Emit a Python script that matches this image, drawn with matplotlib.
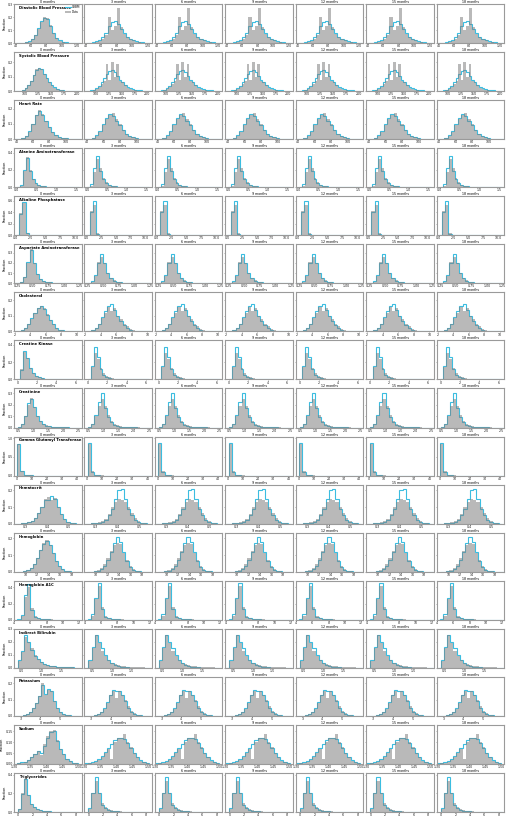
import numpy as np
import matplotlib
matplotlib.use('Agg')
import matplotlib.pyplot as plt
from matplotlib.ticker import MaxNLocator

MONTHS = ['0 months', '3 months', '6 months', '9 months', '12 months', '15 months', '18 months']

# each variable: bins (lo, hi, count), month-0 data / follow-up data, month-0 CRBM / follow-up CRBM
DBP_BINS = (40, 124, 21)
DBP_XTICKS = [40, 60, 80, 100, 120]
DBP_DATA0 = [0.001, 0.001, 0.003, 0.006, 0.012, 0.03, 0.06, 0.11, 0.165, 0.2, 0.195, 0.14, 0.08, 0.04, 0.018, 0.008, 0.004, 0.002, 0.001, 0, 0]
DBP_DATAF = [0.001, 0.002, 0.004, 0.008, 0.015, 0.03, 0.06, 0.2, 0.1, 0.13, 0.27, 0.12, 0.07, 0.05, 0.03, 0.02, 0.012, 0.006, 0.003, 0.002, 0.001]
DBP_CRBM0 = [0.001, 0.002, 0.004, 0.008, 0.015, 0.033, 0.065, 0.115, 0.17, 0.195, 0.185, 0.13, 0.075, 0.04, 0.02, 0.01, 0.005, 0.003, 0.002, 0.001, 0]
DBP_CRBMF = [0.002, 0.004, 0.008, 0.014, 0.025, 0.045, 0.08, 0.13, 0.165, 0.17, 0.15, 0.11, 0.075, 0.05, 0.033, 0.022, 0.015, 0.01, 0.006, 0.003, 0.001]

SBP_BINS = (80, 205, 25)
SBP_XTICKS = [100, 125, 150, 175, 200]
SBP_DATA0 = [0, 0.001, 0.003, 0.008, 0.02, 0.04, 0.07, 0.11, 0.15, 0.16, 0.155, 0.12, 0.09, 0.06, 0.04, 0.025, 0.015, 0.01, 0.006, 0.004, 0.002, 0.001, 0.001, 0.0005, 0]
SBP_DATAF = [0, 0.001, 0.003, 0.007, 0.015, 0.03, 0.05, 0.07, 0.19, 0.08, 0.2, 0.1, 0.19, 0.07, 0.06, 0.04, 0.025, 0.015, 0.01, 0.006, 0.004, 0.002, 0.001, 0.001, 0]
SBP_CRBM0 = [0, 0.001, 0.003, 0.009, 0.02, 0.042, 0.072, 0.112, 0.148, 0.158, 0.15, 0.118, 0.088, 0.06, 0.04, 0.026, 0.016, 0.01, 0.006, 0.004, 0.002, 0.001, 0.001, 0.0005, 0]
SBP_CRBMF = [0.001, 0.002, 0.005, 0.01, 0.02, 0.035, 0.06, 0.09, 0.12, 0.14, 0.145, 0.13, 0.105, 0.08, 0.06, 0.042, 0.03, 0.02, 0.014, 0.01, 0.007, 0.005, 0.003, 0.002, 0.001]

HR_BINS = (38, 118, 20)
HR_XTICKS = [40, 60, 80, 100]
HR_DATA0 = [0, 0.002, 0.006, 0.02, 0.05, 0.1, 0.16, 0.19, 0.165, 0.12, 0.08, 0.045, 0.025, 0.015, 0.008, 0.005, 0.003, 0.002, 0.001, 0]
HR_DATAF = [0, 0.002, 0.006, 0.018, 0.045, 0.09, 0.13, 0.16, 0.17, 0.13, 0.1, 0.06, 0.035, 0.02, 0.012, 0.007, 0.004, 0.002, 0.001, 0]
HR_CRBM0 = [0, 0.002, 0.007, 0.022, 0.052, 0.1, 0.155, 0.185, 0.16, 0.12, 0.08, 0.046, 0.026, 0.015, 0.008, 0.005, 0.003, 0.002, 0.001, 0]
HR_CRBMF = [0, 0.003, 0.01, 0.025, 0.055, 0.1, 0.14, 0.165, 0.15, 0.12, 0.09, 0.058, 0.035, 0.02, 0.012, 0.007, 0.004, 0.002, 0.001, 0]

ALT_BINS = (0, 1.575, 21)
ALT_XTICKS = [0.0, 0.5, 1.0, 1.5]
ALT_DATA0 = [0, 0.02, 0.19, 0.35, 0.2, 0.1, 0.05, 0.03, 0.02, 0.012, 0.008, 0.005, 0.003, 0.002, 0.001, 0.001, 0, 0, 0, 0, 0]
ALT_DATAF = [0, 0.02, 0.18, 0.33, 0.22, 0.11, 0.055, 0.03, 0.02, 0.012, 0.008, 0.005, 0.003, 0.002, 0.001, 0.001, 0, 0, 0, 0, 0]
ALT_CRBM0 = [0, 0.03, 0.2, 0.34, 0.19, 0.1, 0.05, 0.03, 0.02, 0.012, 0.008, 0.005, 0.003, 0.002, 0.001, 0.001, 0, 0, 0, 0, 0]
ALT_CRBMF = [0, 0.04, 0.22, 0.36, 0.19, 0.09, 0.045, 0.028, 0.018, 0.011, 0.007, 0.005, 0.003, 0.002, 0.001, 0.001, 0, 0, 0, 0, 0]

ALP_BINS = (0, 11, 20)
ALP_XTICKS = [0.0, 2.5, 5.0, 7.5, 10.0]
ALP_DATA0 = [0.005, 0.38, 0.57, 0.035, 0.007, 0.002, 0.001, 0, 0, 0, 0, 0, 0, 0, 0, 0, 0, 0, 0, 0]
ALP_DATAF = [0.005, 0.42, 0.52, 0.045, 0.007, 0.002, 0.001, 0, 0, 0, 0, 0, 0, 0, 0, 0, 0, 0, 0, 0]
ALP_CRBM0 = [0.005, 0.37, 0.58, 0.035, 0.006, 0.002, 0.001, 0, 0, 0, 0, 0, 0, 0, 0, 0, 0, 0, 0, 0]
ALP_CRBMF = [0.004, 0.4, 0.6, 0.03, 0.005, 0.001, 0, 0, 0, 0, 0, 0, 0, 0, 0, 0, 0, 0, 0, 0]

AST_BINS = (0.2, 1.25, 21)
AST_XTICKS = [0.25, 0.5, 0.75, 1.0, 1.25]
AST_DATA0 = [0, 0, 0.01, 0.06, 0.2, 0.33, 0.2, 0.09, 0.045, 0.025, 0.015, 0.01, 0.006, 0.004, 0.003, 0.002, 0.001, 0.001, 0.0005, 0, 0]
AST_DATAF = [0, 0, 0.012, 0.07, 0.21, 0.26, 0.2, 0.1, 0.05, 0.028, 0.016, 0.01, 0.006, 0.004, 0.003, 0.002, 0.001, 0.001, 0.0005, 0, 0]
AST_CRBM0 = [0, 0, 0.012, 0.065, 0.21, 0.32, 0.2, 0.09, 0.045, 0.025, 0.015, 0.01, 0.006, 0.004, 0.003, 0.002, 0.001, 0.001, 0.0005, 0, 0]
AST_CRBMF = [0, 0.002, 0.02, 0.08, 0.2, 0.29, 0.2, 0.1, 0.05, 0.026, 0.014, 0.009, 0.005, 0.003, 0.002, 0.001, 0.001, 0, 0, 0, 0]

CHOL_BINS = (2.0, 10.4, 21)
CHOL_XTICKS = [2, 4, 6, 8, 10]
CHOL_DATA0 = [0, 0.002, 0.008, 0.02, 0.045, 0.08, 0.115, 0.15, 0.165, 0.15, 0.11, 0.075, 0.045, 0.025, 0.012, 0.006, 0.003, 0.002, 0.001, 0, 0]
CHOL_DATAF = [0, 0.002, 0.008, 0.02, 0.045, 0.085, 0.12, 0.155, 0.13, 0.15, 0.1, 0.08, 0.05, 0.035, 0.015, 0.007, 0.003, 0.002, 0.001, 0, 0]
CHOL_CRBM0 = [0, 0.002, 0.009, 0.022, 0.048, 0.085, 0.12, 0.148, 0.16, 0.145, 0.108, 0.075, 0.045, 0.025, 0.012, 0.006, 0.003, 0.002, 0.001, 0, 0]
CHOL_CRBMF = [0, 0.003, 0.01, 0.025, 0.05, 0.09, 0.13, 0.165, 0.175, 0.14, 0.1, 0.065, 0.04, 0.022, 0.011, 0.005, 0.003, 0.002, 0.001, 0, 0]

CK_BINS = (0, 6.3, 21)
CK_XTICKS = [0, 2, 4, 6]
CK_DATA0 = [0, 0.12, 0.32, 0.25, 0.13, 0.07, 0.04, 0.025, 0.015, 0.01, 0.006, 0.004, 0.003, 0.002, 0.001, 0.001, 0, 0, 0, 0, 0]
CK_DATAF = [0, 0.14, 0.3, 0.24, 0.13, 0.07, 0.04, 0.025, 0.015, 0.01, 0.006, 0.004, 0.003, 0.002, 0.001, 0.001, 0, 0, 0, 0, 0]
CK_CRBM0 = [0, 0.11, 0.33, 0.25, 0.13, 0.07, 0.04, 0.025, 0.015, 0.01, 0.006, 0.004, 0.003, 0.002, 0.001, 0.001, 0, 0, 0, 0, 0]
CK_CRBMF = [0, 0.15, 0.37, 0.26, 0.12, 0.05, 0.025, 0.014, 0.008, 0.005, 0.003, 0.002, 0.001, 0.001, 0, 0, 0, 0, 0, 0, 0]

CREA_BINS = (0.4, 2.6, 22)
CREA_XTICKS = [0.5, 1.0, 1.5, 2.0, 2.5]
CREA_DATA0 = [0, 0.004, 0.03, 0.1, 0.2, 0.26, 0.18, 0.1, 0.055, 0.03, 0.018, 0.01, 0.006, 0.004, 0.003, 0.002, 0.001, 0.001, 0, 0, 0, 0]
CREA_DATAF = [0, 0.005, 0.03, 0.1, 0.19, 0.25, 0.19, 0.11, 0.06, 0.03, 0.018, 0.01, 0.006, 0.004, 0.003, 0.002, 0.001, 0.001, 0, 0, 0, 0]
CREA_CRBM0 = [0, 0.005, 0.032, 0.1, 0.21, 0.25, 0.18, 0.1, 0.055, 0.03, 0.017, 0.01, 0.006, 0.004, 0.003, 0.002, 0.001, 0.001, 0, 0, 0, 0]
CREA_CRBMF = [0, 0.006, 0.035, 0.11, 0.22, 0.3, 0.17, 0.09, 0.045, 0.025, 0.014, 0.008, 0.005, 0.003, 0.002, 0.001, 0.001, 0, 0, 0, 0, 0]

GGT_BINS = (0.5, 42.5, 20)
GGT_XTICKS = [0, 10, 20, 30, 40]
GGT_DATA0 = [0.84, 0.12, 0.025, 0.008, 0.004, 0.002, 0.001, 0.001, 0, 0, 0, 0, 0, 0, 0, 0, 0, 0, 0, 0]
GGT_DATAF = [0.83, 0.13, 0.025, 0.008, 0.004, 0.002, 0.001, 0.001, 0, 0, 0, 0, 0, 0, 0, 0, 0, 0, 0, 0]
GGT_CRBM0 = [0.85, 0.11, 0.025, 0.008, 0.004, 0.002, 0.001, 0, 0, 0, 0, 0, 0, 0, 0, 0, 0, 0, 0, 0]
GGT_CRBMF = [0.88, 0.09, 0.02, 0.005, 0.002, 0.001, 0, 0, 0, 0, 0, 0, 0, 0, 0, 0, 0, 0, 0, 0]

HCT_BINS = (0.25, 0.55, 20)
HCT_XTICKS = [0.3, 0.4, 0.5]
HCT_DATA0 = [0, 0, 0.002, 0.004, 0.008, 0.015, 0.035, 0.065, 0.1, 0.15, 0.16, 0.14, 0.155, 0.1, 0.06, 0.03, 0.012, 0.005, 0.002, 0]
HCT_DATAF = [0, 0, 0.002, 0.004, 0.008, 0.015, 0.03, 0.06, 0.1, 0.13, 0.15, 0.14, 0.13, 0.1, 0.065, 0.035, 0.015, 0.006, 0.002, 0]
HCT_CRBM0 = [0, 0, 0.002, 0.004, 0.008, 0.016, 0.036, 0.066, 0.1, 0.145, 0.14, 0.165, 0.15, 0.1, 0.06, 0.03, 0.012, 0.005, 0.002, 0]
HCT_CRBMF = [0, 0, 0.001, 0.003, 0.006, 0.012, 0.025, 0.05, 0.09, 0.15, 0.2, 0.21, 0.15, 0.09, 0.05, 0.025, 0.01, 0.004, 0.001, 0]

HGB_BINS = (8.5, 19.5, 20)
HGB_XTICKS = [10, 12, 14, 16, 18]
HGB_DATA0 = [0, 0.001, 0.003, 0.008, 0.02, 0.045, 0.08, 0.13, 0.17, 0.19, 0.16, 0.11, 0.065, 0.035, 0.015, 0.006, 0.002, 0.001, 0, 0]
HGB_DATAF = [0, 0.001, 0.003, 0.008, 0.02, 0.045, 0.08, 0.125, 0.16, 0.175, 0.165, 0.115, 0.07, 0.035, 0.015, 0.006, 0.002, 0.001, 0, 0]
HGB_CRBM0 = [0, 0.001, 0.003, 0.009, 0.022, 0.047, 0.082, 0.13, 0.165, 0.185, 0.16, 0.11, 0.065, 0.034, 0.015, 0.006, 0.002, 0.001, 0, 0]
HGB_CRBMF = [0, 0, 0.002, 0.006, 0.015, 0.035, 0.07, 0.12, 0.17, 0.21, 0.18, 0.12, 0.065, 0.03, 0.012, 0.005, 0.002, 0.001, 0, 0]

A1C_BINS = (4.0, 12.0, 20)
A1C_XTICKS = [4, 6, 8, 10, 12]
A1C_DATA0 = [0, 0.003, 0.05, 0.28, 0.4, 0.15, 0.05, 0.025, 0.015, 0.01, 0.006, 0.004, 0.003, 0.002, 0.001, 0.001, 0, 0, 0, 0]
A1C_DATAF = [0, 0.003, 0.05, 0.26, 0.42, 0.16, 0.05, 0.025, 0.015, 0.01, 0.006, 0.004, 0.003, 0.002, 0.001, 0.001, 0, 0, 0, 0]
A1C_CRBM0 = [0, 0.004, 0.06, 0.3, 0.44, 0.12, 0.04, 0.02, 0.012, 0.008, 0.005, 0.003, 0.002, 0.001, 0.001, 0, 0, 0, 0, 0]
A1C_CRBMF = [0, 0.005, 0.07, 0.27, 0.45, 0.13, 0.04, 0.018, 0.01, 0.006, 0.004, 0.002, 0.001, 0.001, 0, 0, 0, 0, 0, 0]

IBIL_BINS = (0.32, 2.0, 21)
IBIL_XTICKS = [0.5, 1.0, 1.5]
IBIL_DATA0 = [0, 0.05, 0.12, 0.24, 0.2, 0.15, 0.1, 0.07, 0.045, 0.03, 0.02, 0.015, 0.012, 0.01, 0.008, 0.006, 0.005, 0.004, 0.003, 0.002, 0.001]
IBIL_DATAF = [0, 0.05, 0.15, 0.25, 0.19, 0.13, 0.09, 0.06, 0.04, 0.03, 0.02, 0.015, 0.012, 0.01, 0.008, 0.006, 0.005, 0.004, 0.003, 0.002, 0.001]
IBIL_CRBM0 = [0, 0.06, 0.13, 0.25, 0.2, 0.14, 0.09, 0.065, 0.045, 0.03, 0.02, 0.015, 0.012, 0.01, 0.008, 0.006, 0.005, 0.004, 0.003, 0.002, 0.001]
IBIL_CRBMF = [0, 0.06, 0.16, 0.25, 0.2, 0.15, 0.1, 0.06, 0.035, 0.02, 0.012, 0.008, 0.005, 0.003, 0.002, 0.001, 0.001, 0, 0, 0, 0]

K_BINS = (2.7, 6.0, 22)
K_XTICKS = [3, 4, 5]
K_DATA0 = [0, 0, 0.002, 0.005, 0.012, 0.025, 0.05, 0.08, 0.12, 0.2, 0.13, 0.16, 0.15, 0.09, 0.05, 0.025, 0.012, 0.006, 0.003, 0.001, 0, 0]
K_DATAF = [0, 0, 0.002, 0.005, 0.012, 0.025, 0.045, 0.08, 0.13, 0.15, 0.11, 0.15, 0.13, 0.1, 0.06, 0.03, 0.015, 0.007, 0.003, 0.001, 0, 0]
K_CRBM0 = [0, 0, 0.002, 0.006, 0.013, 0.026, 0.05, 0.082, 0.12, 0.19, 0.135, 0.165, 0.15, 0.09, 0.05, 0.025, 0.012, 0.006, 0.003, 0.001, 0, 0]
K_CRBMF = [0, 0, 0.002, 0.005, 0.012, 0.025, 0.05, 0.085, 0.13, 0.16, 0.155, 0.15, 0.13, 0.09, 0.05, 0.025, 0.012, 0.006, 0.003, 0.001, 0, 0]

NA_BINS = (1.30, 1.50, 20)
NA_XTICKS = [1.30, 1.35, 1.40, 1.45, 1.50]
NA_DATA0 = [0.002, 0.004, 0.006, 0.01, 0.018, 0.03, 0.045, 0.06, 0.04, 0.09, 0.13, 0.15, 0.155, 0.11, 0.07, 0.045, 0.025, 0.012, 0.006, 0.003]
NA_DATAF = [0.002, 0.004, 0.006, 0.01, 0.018, 0.03, 0.05, 0.07, 0.025, 0.1, 0.12, 0.12, 0.14, 0.1, 0.08, 0.05, 0.03, 0.015, 0.007, 0.003]
NA_CRBM0 = [0.002, 0.004, 0.007, 0.011, 0.02, 0.032, 0.047, 0.06, 0.05, 0.085, 0.12, 0.145, 0.15, 0.105, 0.07, 0.045, 0.025, 0.012, 0.006, 0.003]
NA_CRBMF = [0.003, 0.005, 0.008, 0.013, 0.022, 0.035, 0.055, 0.075, 0.09, 0.11, 0.12, 0.12, 0.115, 0.095, 0.075, 0.05, 0.03, 0.016, 0.008, 0.004]

TG_BINS = (0, 8.4, 20)
TG_XTICKS = [0, 2, 4, 6, 8]
TG_DATA0 = [0.03, 0.2, 0.35, 0.18, 0.09, 0.05, 0.03, 0.02, 0.014, 0.01, 0.007, 0.005, 0.004, 0.003, 0.002, 0.002, 0.001, 0.001, 0.001, 0]
TG_DATAF = [0.03, 0.2, 0.33, 0.2, 0.1, 0.05, 0.03, 0.02, 0.014, 0.01, 0.007, 0.005, 0.004, 0.003, 0.002, 0.002, 0.001, 0.001, 0.001, 0]
TG_CRBM0 = [0.03, 0.19, 0.36, 0.18, 0.09, 0.05, 0.03, 0.02, 0.014, 0.01, 0.007, 0.005, 0.004, 0.003, 0.002, 0.002, 0.001, 0.001, 0.001, 0]
TG_CRBMF = [0.04, 0.2, 0.38, 0.2, 0.08, 0.04, 0.022, 0.014, 0.009, 0.006, 0.004, 0.003, 0.002, 0.001, 0.001, 0.001, 0, 0, 0, 0]

#table of rows: name, bins, xlim, ylim top, xticks, data0, dataF, crbm0, crbmF
ROWS = [
    ('Diastolic Blood Pressure', DBP_BINS, (38, 126), 0.30, DBP_XTICKS, DBP_DATA0, DBP_DATAF, DBP_CRBM0, DBP_CRBMF),
    ('Systolic Blood Pressure', SBP_BINS, (79, 209), 0.27, SBP_XTICKS, SBP_DATA0, SBP_DATAF, SBP_CRBM0, SBP_CRBMF),
    ('Heart Rate', HR_BINS, (37, 119), 0.255, HR_XTICKS, HR_DATA0, HR_DATAF, HR_CRBM0, HR_CRBMF),
    ('Alanine Aminotransferase', ALT_BINS, (-0.07, 1.64), 0.45, ALT_XTICKS, ALT_DATA0, ALT_DATAF, ALT_CRBM0, ALT_CRBMF),
    ('Alkaline Phosphatase', ALP_BINS, (-0.3, 11.1), 0.68, ALP_XTICKS, ALP_DATA0, ALP_DATAF, ALP_CRBM0, ALP_CRBMF),
    ('Aspartate Aminotransferase', AST_BINS, (0.2, 1.28), 0.38, AST_XTICKS, AST_DATA0, AST_DATAF, AST_CRBM0, AST_CRBMF),
    ('Cholesterol', CHOL_BINS, (1.9, 10.6), 0.25, CHOL_XTICKS, CHOL_DATA0, CHOL_DATAF, CHOL_CRBM0, CHOL_CRBMF),
    ('Creatine Kinase', CK_BINS, (-0.35, 6.6), 0.45, CK_XTICKS, CK_DATA0, CK_DATAF, CK_CRBM0, CK_CRBMF),
    ('Creatinine', CREA_BINS, (0.37, 2.6), 0.34, CREA_XTICKS, CREA_DATA0, CREA_DATAF, CREA_CRBM0, CREA_CRBMF),
    ('Gamma Glutamyl Transferase', GGT_BINS, (-1.7, 43), 1.04, GGT_XTICKS, GGT_DATA0, GGT_DATAF, GGT_CRBM0, GGT_CRBMF),
    ('Hematocrit', HCT_BINS, (0.248, 0.56), 0.235, HCT_XTICKS, HCT_DATA0, HCT_DATAF, HCT_CRBM0, HCT_CRBMF),
    ('Hemoglobin', HGB_BINS, (8.0, 19.7), 0.235, HGB_XTICKS, HGB_DATA0, HGB_DATAF, HGB_CRBM0, HGB_CRBMF),
    ('Hemoglobin A1C', A1C_BINS, (4.0, 12.3), 0.48, A1C_XTICKS, A1C_DATA0, A1C_DATAF, A1C_CRBM0, A1C_CRBMF),
    ('Indirect Bilirubin', IBIL_BINS, (0.3, 2.02), 0.3, IBIL_XTICKS, IBIL_DATA0, IBIL_DATAF, IBIL_CRBM0, IBIL_CRBMF),
    ('Potassium', K_BINS, (2.67, 6.08), 0.24, K_XTICKS, K_DATA0, K_DATAF, K_CRBM0, K_CRBMF),
    ('Sodium', NA_BINS, (1.30, 1.51), 0.18, NA_XTICKS, NA_DATA0, NA_DATAF, NA_CRBM0, NA_CRBMF),
    ('Triglycerides', TG_BINS, (-0.55, 8.8), 0.42, TG_XTICKS, TG_DATA0, TG_DATAF, TG_CRBM0, TG_CRBMF),
]

CYAN = '#3bbde0'
SPINE = '#9a9a9a'

fig, axes = plt.subplots(len(ROWS), len(MONTHS), figsize=(5.07, 8.17), dpi=100, sharey='row')
fig.subplots_adjust(left=0.0276, right=0.995, top=0.9951, bottom=0.0061, wspace=0.044, hspace=0.23)

for r, (name, bins, xlim, ytop, xticks, d0, dF, c0, cF) in enumerate(ROWS):
    lo, hi, nb = bins
    edges = np.linspace(lo, hi, nb + 1)
    for c, month in enumerate(MONTHS):
        ax = axes[r, c]
        data = d0 if c == 0 else dF
        crbm = c0 if c == 0 else cF
        ax.stairs(crbm, edges, color=CYAN, lw=0.8, label='CRBM', zorder=2)
        ax.stairs(data, edges, fill=True, color='gray', alpha=0.55, lw=0, label='Data', zorder=3)
        ax.set_xlim(xlim)
        ax.set_xticks(xticks)
        ax.set_title(month, fontsize=2.3, pad=0.2)
        ax.tick_params(labelsize=2.3, length=0.6, width=0.4, pad=0.2, colors='#222222')
        for s in ax.spines.values():
            s.set_color(SPINE)
            s.set_linewidth(0.8)
        if c == 0:
            ax.set_ylabel('Fraction', fontsize=2.4, labelpad=1)
            ax.yaxis.set_major_locator(MaxNLocator(nbins=4, steps=[1, 2, 2.5, 5, 10]))
            ax.text(0.07, 0.9, name, transform=ax.transAxes, fontsize=2.7,
                    fontweight='bold', va='center', ha='left')
    axes[r, 0].set_ylim(0, ytop)

axes[0, 0].legend(loc='upper right', fontsize=2.1, handlelength=2.0, handleheight=0.7,
                  borderpad=0.2, borderaxespad=0.3, labelspacing=0.2, handletextpad=0.4,
                  frameon=False)

fig.savefig('out.png', dpi=100)
